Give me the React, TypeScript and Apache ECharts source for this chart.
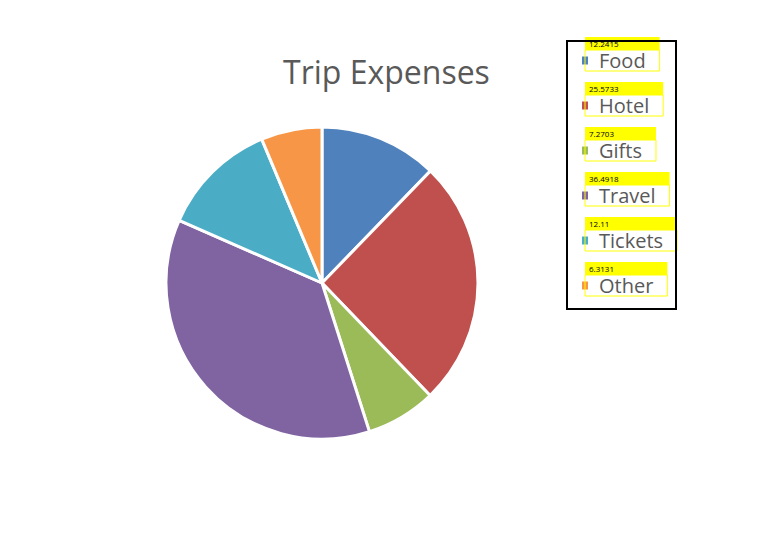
import React, { useEffect, useRef } from "react";
import * as echarts from "echarts";

const categories = ["Food", "Hotel", "Gifts", "Travel", "Tickets", "Other"];
const values = [12.2415, 25.5733, 7.2703, 36.4918, 12.11, 6.3131];
const valueLabels = ["12.2415", "25.5733", "7.2703", "36.4918", "12.11", "6.3131"];
const colors = ["#4F81BD", "#C0504D", "#9BBB59", "#8064A2", "#4BACC6", "#F79646"];
const titleText = "Trip Expenses";

export default function App() {
  const ref = useRef<HTMLDivElement>(null);
  useEffect(() => {
    if (!ref.current) return;
    const chart = echarts.init(ref.current, undefined, { renderer: "svg" });
    const font = "'Open Sans', 'Liberation Sans', sans-serif";
    chart.setOption({
      animation: false,
      backgroundColor: "#ffffff",
      color: colors,
      title: {
        text: titleText,
        left: 283,
        top: 55,
        padding: 0,
        textStyle: { fontFamily: font, fontSize: 32, fontWeight: "normal", color: "#595959" },
      },
      legend: {
        orient: "vertical",
        left: 580,
        top: 37,
        padding: 0,
        itemGap: -2,
        icon: "rect",
        itemWidth: 8,
        itemHeight: 10,
        selectedMode: false,
        data: categories,
        formatter: (name: string) => {
          const i = categories.indexOf(name);
          return `{v|${valueLabels[i]}}\n{n|${name}}\n{e| }`;
        },
        textStyle: {
          fontFamily: font,
          padding: [0, 0, 0, -9],
          rich: {
            v: {
              width: "100%",
              height: 13,
              lineHeight: 13,
              fontSize: 8,
              color: "#000000",
              backgroundColor: "#FFFF00",
              padding: [0, 0, 0, 4],
              fontFamily: font,
            },
            n: {
              height: 21,
              lineHeight: 21,
              fontSize: 20,
              color: "#595959",
              borderColor: "#FFFF00",
              borderWidth: 1,
              padding: [0, 14, 0, 14],
              fontFamily: font,
            },
            e: { height: 13, lineHeight: 13, fontSize: 8 },
          },
        },
      },
      graphic: [
        {
          type: "rect",
          shape: { x: 567, y: 41, width: 109, height: 268 },
          style: { fill: "none", stroke: "#000000", lineWidth: 2 },
          z: 100,
          silent: true,
        },
      ],
      series: [
        {
          type: "pie",
          center: [322, 283],
          radius: 156,
          startAngle: 90,
          clockwise: true,
          label: { show: false },
          labelLine: { show: false },
          itemStyle: { borderColor: "#ffffff", borderWidth: 3 },
          emphasis: { disabled: true },
          data: categories.map((c, i) => ({ name: c, value: values[i] })),
        },
      ],
    });
    return () => chart.dispose();
  }, []);
  return (
    <div
      ref={ref}
      style={{ position: "fixed", left: 0, top: 0, width: 777, height: 548 }}
    />
  );
}
